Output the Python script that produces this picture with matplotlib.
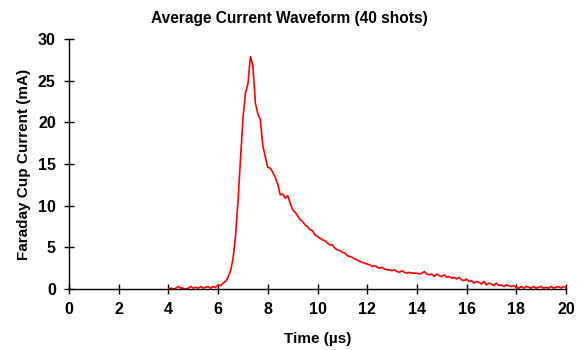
import numpy as np
import matplotlib
matplotlib.use("Agg")
import matplotlib.pyplot as plt

plt.rcParams['font.family'] = ['Liberation Sans', 'DejaVu Sans']

title = "Average Current Waveform (40 shots)"
xlabel = "Time (\u00b5s)"
ylabel = "Faraday Cup Current (mA)"
x_ticks = [0, 2, 4, 6, 8, 10, 12, 14, 16, 18, 20]
y_ticks = [0, 5, 10, 15, 20, 25, 30]

t_start = 4.0
t_step = 0.1
current_mA = [
    0.0, 0.1, 0.0, 0.1, 0.3, 0.1, 0.1, 0.0, 0.1, 0.3,   # 4.0-4.9
    0.1, 0.2, 0.1, 0.3, 0.1, 0.2, 0.3, 0.1, 0.3, 0.2,   # 5.0-5.9
    0.5, 0.4, 0.7, 0.9, 1.4, 2.2, 3.6, 6.3, 10.5, 15.5, # 6.0-6.9
    20.5, 23.5, 24.6, 27.9, 26.8, 22.3, 21.0, 20.3, 17.2, 15.8,  # 7.0-7.9
    14.6, 14.5, 14.0, 13.4, 12.6, 11.3, 11.4, 10.9, 11.2, 10.3,  # 8.0-8.9
    9.5, 9.2, 8.8, 8.3, 8.1, 7.7, 7.5, 7.1, 7.0, 6.5,   # 9.0-9.9
    6.3, 6.1, 5.9, 5.8, 5.5, 5.3, 5.3, 4.9, 4.7, 4.6,   # 10.0-10.9
    4.4, 4.3, 4.0, 3.9, 3.8, 3.6, 3.5, 3.3, 3.2, 3.1,   # 11.0-11.9
    3.0, 2.9, 2.7, 2.8, 2.6, 2.5, 2.6, 2.4, 2.3, 2.3,   # 12.0-12.9
    2.2, 2.3, 2.1, 2.0, 2.2, 2.0, 1.9, 2.0, 1.9, 1.9,   # 13.0-13.9
    1.9, 1.8, 1.9, 2.1, 1.8, 1.7, 1.8, 1.5, 1.8, 1.6,   # 14.0-14.9
    1.5, 1.7, 1.4, 1.5, 1.3, 1.4, 1.2, 1.4, 1.1, 1.0,   # 15.0-15.9
    1.2, 0.9, 1.0, 0.7, 0.9, 0.8, 0.6, 0.9, 0.5, 0.7,   # 16.0-16.9
    0.6, 0.4, 0.7, 0.4, 0.5, 0.3, 0.5, 0.4, 0.3, 0.4,   # 17.0-17.9
    0.2, 0.1, 0.3, 0.1, 0.3, 0.2, 0.1, 0.3, 0.1, 0.2,   # 18.0-18.9
    0.3, 0.1, 0.2, 0.1, 0.3, 0.1, 0.2, 0.3, 0.1, 0.3,   # 19.0-19.9
    0.2,                                                 # 20.0
]
time_us = t_start + t_step * np.arange(len(current_mA))

fig = plt.figure(figsize=(5.78, 3.5), dpi=100)
ax = fig.add_axes([69/578, 61/350, (566-69)/578, (289-39)/350])

ax.plot(time_us, current_mA, color='#ff0000', lw=1.2)

ax.set_xlim(0, 20)
ax.set_ylim(0, 30)
ax.set_xticks(x_ticks)
ax.set_yticks(y_ticks)
for s in ['top', 'right']:
    ax.spines[s].set_visible(False)
for s in ['left', 'bottom']:
    ax.spines[s].set_linewidth(1.0)
ax.tick_params(direction='inout', length=7, width=1.0, labelsize=11.5, pad=6)
for lab in ax.get_xticklabels() + ax.get_yticklabels():
    lab.set_fontweight('bold')

ax.set_xlabel(xlabel, fontsize=11, fontweight='bold', labelpad=11)
ax.set_ylabel(ylabel, fontsize=11, fontweight='bold', labelpad=5)
fig.text(0.5, 1 - 19/350, title, ha='center', va='center', fontsize=11.2, fontweight='bold')

fig.savefig('out.png', dpi=100)
